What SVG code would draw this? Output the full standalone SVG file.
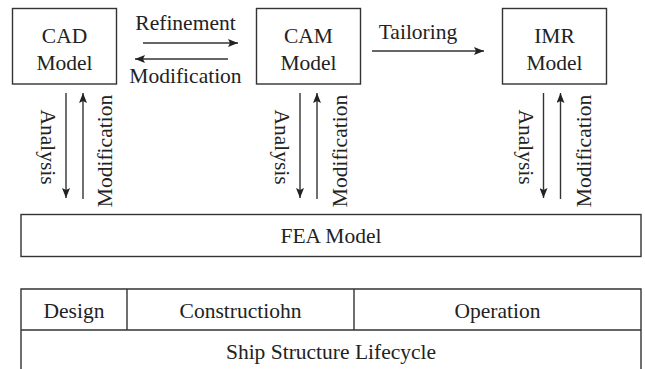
<svg xmlns="http://www.w3.org/2000/svg" width="645" height="369" viewBox="0 0 645 369" font-family="Liberation Serif, Times New Roman, DejaVu Serif, serif">
<defs>
<style>
.box{fill:#fff;stroke:#333;stroke-width:1.4}
.ln{fill:none;stroke:#333;stroke-width:1.4}
.t{font-size:21.5px;fill:#222;text-anchor:middle}
</style>
<marker id="ah" viewBox="0 0 10 8" refX="10" refY="4" markerWidth="10" markerHeight="8" markerUnits="userSpaceOnUse" orient="auto">
<path d="M0,0 L10,4 L0,8 L2,4 z" fill="#222"/>
</marker>
</defs>
<rect width="645" height="369" fill="#fff"/>
<g id="cad">
<rect class="box" x="12.5" y="8.5" width="104" height="75.5"/>
<text class="t" x="64.5" y="43">CAD</text>
<text class="t" x="64.5" y="70">Model</text>
</g>
<g id="cam">
<rect class="box" x="256.5" y="8.5" width="104" height="75.5"/>
<text class="t" x="308.5" y="43">CAM</text>
<text class="t" x="308.5" y="70">Model</text>
</g>
<g id="imr">
<rect class="box" x="502.5" y="8.5" width="104" height="75.5"/>
<text class="t" x="554.5" y="43">IMR</text>
<text class="t" x="554.5" y="70">Model</text>
</g>
<g id="fea">
<rect class="box" x="21" y="214.5" width="620" height="42"/>
<text class="t" x="331" y="243">FEA Model</text>
</g>
<g id="lifecycle">
<path class="ln" d="M21,372 V289 H641 V372 M21,330 H641 M127,289 V330 M354,289 V330"/>
<text class="t" x="74" y="318">Design</text>
<text class="t" x="240.5" y="318">Constructiohn</text>
<text class="t" x="497.5" y="318">Operation</text>
<text class="t" x="331" y="359">Ship Structure Lifecycle</text>
</g>
<g id="connectors">
<line class="ln" x1="143" y1="43" x2="238" y2="43" marker-end="url(#ah)"/>
<line class="ln" x1="228" y1="59" x2="135" y2="59" marker-end="url(#ah)"/>
<line class="ln" x1="372" y1="51" x2="484" y2="51" marker-end="url(#ah)"/>
<line class="ln" x1="66" y1="93" x2="66" y2="198" marker-end="url(#ah)"/>
<line class="ln" x1="83" y1="199" x2="83" y2="93" marker-end="url(#ah)"/>
<line class="ln" x1="300" y1="93" x2="300" y2="198" marker-end="url(#ah)"/>
<line class="ln" x1="317" y1="199" x2="317" y2="93" marker-end="url(#ah)"/>
<line class="ln" x1="543.5" y1="93" x2="543.5" y2="198" marker-end="url(#ah)"/>
<line class="ln" x1="560.5" y1="199" x2="560.5" y2="93" marker-end="url(#ah)"/>
<text class="t" x="185.5" y="30">Refinement</text>
<text class="t" x="185.5" y="83">Modification</text>
<text class="t" x="418" y="39">Tailoring</text>
<text class="t" transform="translate(41,147) rotate(90)">Analysis</text>
<text class="t" transform="translate(112,151) rotate(-90)">Modification</text>
<text class="t" transform="translate(275,147) rotate(90)">Analysis</text>
<text class="t" transform="translate(347,151) rotate(-90)">Modification</text>
<text class="t" transform="translate(518.5,147) rotate(90)">Analysis</text>
<text class="t" transform="translate(591,151) rotate(-90)">Modification</text>
</g>
</svg>
